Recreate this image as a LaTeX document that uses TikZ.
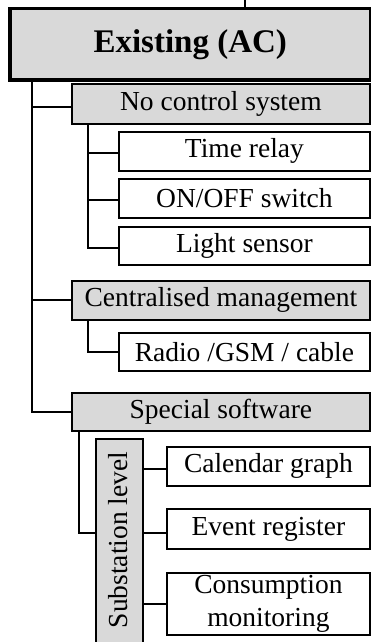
\documentclass[tikz,border=0pt]{standalone}
\usepackage{fontspec}
\setmainfont{Liberation Serif}
\definecolor{boxgray}{HTML}{D9D9D9}
\begin{document}
\begin{tikzpicture}[x=1pt,y=-1pt,
  base/.style={draw=black, line width=1.8pt, anchor=north west, inner sep=0pt, align=center,
    font=\fontsize{27.5}{31}\selectfont},
  graybox/.style={base, fill=boxgray},
  whitebox/.style={base, fill=white},
  conn/.style={line width=1.9pt}]
\useasboundingbox (0,0) rectangle (370,642);
% root
\draw[conn] (245,0) -- (245,8);
\node[graybox, line width=3.5pt, minimum width=361pt, minimum height=71pt,
  font=\fontsize{33}{38}\selectfont\bfseries] (root) at (8,7) {Existing (AC)};
% level 1
\node[graybox, minimum width=298pt, minimum height=40pt] (nocs) at (71,83) {No control system};
\node[graybox, minimum width=298pt, minimum height=39pt] (cm) at (71,280) {Centralised management};
\node[graybox, minimum width=298pt, minimum height=38pt] (ssw) at (71,392) {Special software};
% level 2
\node[whitebox, minimum width=251pt, minimum height=39pt] (tr) at (118,131) {Time relay};
\node[whitebox, minimum width=251pt, minimum height=39pt] (oo) at (118,178) {ON/OFF switch};
\node[whitebox, minimum width=251pt, minimum height=38pt] (ls) at (118,226) {Light sensor};
\node[whitebox, minimum width=251pt, minimum height=38pt] (rg) at (118,332) {Radio /GSM / cable};
% substation
\node[graybox, minimum width=47pt, minimum height=210pt] (sub) at (95,438) {};
\node[font=\fontsize{27.5}{31}\selectfont, rotate=90, inner sep=0pt] (subt) at (118.5,540) {Substation level};
\node[whitebox, minimum width=203pt, minimum height=39pt] (cal) at (166,446) {Calendar graph};
\node[whitebox, minimum width=203pt, minimum height=40pt] (ev) at (166,508) {Event register};
\node[whitebox, minimum width=203pt, minimum height=62pt, font=\fontsize{27.5}{33}\selectfont] (cons) at (166,572) {Consumption\\monitoring};
% trunks
\coordinate (ta) at (32,78);
\coordinate (tb) at (88,123);
\coordinate (tc) at (88,319);
\coordinate (td) at (79,430);
\draw[conn] (ta) |- ([yshift=-3pt]nocs.west);
\draw[conn] (ta) |- (cm.west);
\draw[conn] (ta) |- (ssw.west);
\draw[conn] (tb) |- ([yshift=-2pt]tr.west);
\draw[conn] (tb) |- ([yshift=-2pt]oo.west);
\draw[conn] (tb) |- ([yshift=-2pt]ls.west);
\draw[conn] (tc) |- (rg.west);
\coordinate (sj) at (sub.west |- ev.west);
\draw[conn] (td) |- ([yshift=-4pt]sj);
\draw[conn] ([yshift=-3pt]sub.east |- cal.west) -- ([yshift=-3pt]cal.west);
\draw[conn] ([yshift=-4pt]sub.east |- ev.west) -- ([yshift=-4pt]ev.west);
\draw[conn] (sub.east |- cons.west) -- (cons.west);
\end{tikzpicture}
\end{document}
